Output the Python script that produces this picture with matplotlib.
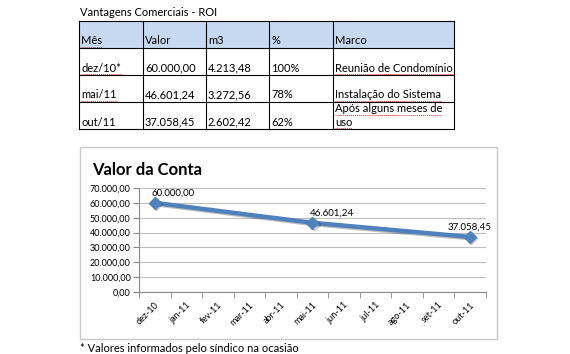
import matplotlib
matplotlib.use("Agg")
import matplotlib.pyplot as plt
from matplotlib.patches import Rectangle
import matplotlib.patheffects as pe

plt.rcParams['font.family'] = ['Lato', 'DejaVu Sans']

# table data
headers = ['Mês', 'Valor', 'm3', '%', 'Marco']
meses = ['dez/10*', 'mai/11', 'out/11']
valores_txt = ['60.000,00', '46.601,24', '37.058,45']
m3 = ['4.213,48', '3.272,56', '2.602,42']
pct = ['100%', '78%', '62%']
marco = ['Reunião de Condomínio', 'Instalação do Sistema', 'Após alguns meses de\nuso']

# chart data
months = ['dez-10', 'jan-11', 'fev-11', 'mar-11', 'abr-11', 'mai-11',
          'jun-11', 'jul-11', 'ago-11', 'set-11', 'out-11']
point_months = ['dez-10', 'mai-11', 'out-11']
point_values = [60000.00, 46601.24, 37058.45]


def br(v):
    s = f"{v:,.2f}"
    return s.replace(',', 'X').replace('.', ',').replace('X', '.')


fig = plt.figure(figsize=(5.7, 3.54), dpi=100)
bg = fig.add_axes([0, 0, 1, 1])
bg.set_xlim(0, 570)
bg.set_ylim(354, 0)
bg.axis('off')

fs = 8
squiggle = []  # texts that get the red spell-check underline

bg.text(80, 12, 'Vantagens Comerciais - ROI', fontsize=fs, va='center', ha='left')

cols = [79, 143, 206, 269, 333, 454]
rows = [21, 48, 75, 102, 129]
bg.add_patch(Rectangle((cols[0], rows[0]), cols[-1] - cols[0], rows[1] - rows[0],
                       facecolor='#c6d9f1', edgecolor='none'))
for x in cols:
    bg.plot([x, x], [rows[0], rows[-1]], color='black', lw=0.8)
for y in rows:
    bg.plot([cols[0], cols[-1]], [y, y], color='black', lw=0.8)

for i, h in enumerate(headers):
    t = bg.text(cols[i] + 2, 41, h, fontsize=fs, va='center', ha='left')
    if h == 'Mês':
        squiggle.append(t)
table_rows = list(zip(meses, valores_txt, m3, pct, marco))
row_y = [68, 95, 122]
for r, vals in enumerate(table_rows):
    for i, v in enumerate(vals):
        if '\n' in v:
            a, b = v.split('\n')
            squiggle.append(bg.text(cols[i] + 2, 109, a, fontsize=fs, va='center', ha='left'))
            squiggle.append(bg.text(cols[i] + 2, 122, b, fontsize=fs, va='center', ha='left'))
        else:
            t = bg.text(cols[i] + 2, row_y[r], v, fontsize=fs, va='center', ha='left')
            if i == 4 or (i == 0 and r < 2):
                squiggle.append(t)

# chart frame
bg.add_patch(Rectangle((80, 147), 417, 192, facecolor='white', edgecolor='#c8c8c8', lw=1))
bg.text(92, 170, 'Valor da Conta', fontsize=12, fontweight='bold', va='center', ha='left')
bg.text(80, 348, '* Valores informados pelo síndico na ocasião', fontsize=fs,
        va='center', ha='left')

ax = fig.add_axes([139 / 570, (354 - 292) / 354, (485.5 - 139) / 570, (292 - 188) / 354])
xs = [months.index(m) for m in point_months]
ax.plot(xs, point_values, color='#4f81bd', lw=3.2, marker='D', markersize=6,
        path_effects=[pe.SimpleLineShadow(offset=(1, -1), alpha=0.25), pe.Normal()])
label_ha = ['left', 'left', 'center']
label_dx = [-2, -2, 0]
for x, v, ha, dx in zip(xs, point_values, label_ha, label_dx):
    ax.annotate(br(v), (x, v), xytext=(dx, 4), textcoords='offset points',
                ha=ha, va='bottom', fontsize=7)

ax.set_xlim(-0.5, len(months) - 0.5)
ax.set_ylim(0, 70000)
ax.set_yticks(range(0, 70001, 10000))
ax.set_yticklabels([br(v) for v in range(0, 70001, 10000)], fontsize=6.5)
ax.set_xticks(range(len(months)))
ax.set_xticklabels(months, rotation=45, ha='right', rotation_mode='anchor', fontsize=6.5)
ax.tick_params(axis='x', length=0, pad=6)
ax.set_xticks([i - 0.5 for i in range(len(months) + 1)], minor=True)
ax.tick_params(axis='x', which='minor', length=4, color='#888888')
ax.tick_params(axis='y', length=4, color='#888888', pad=2)
ax.grid(axis='y', color='#bfbfbf', lw=0.8)
ax.set_axisbelow(True)
for s in ['top', 'right']:
    ax.spines[s].set_visible(False)
ax.spines['left'].set_color('#888888')
ax.spines['bottom'].set_color('#888888')

# red dotted underline like the spell checker
fig.canvas.draw()
rend = fig.canvas.get_renderer()
inv = bg.transData.inverted()
for t in squiggle:
    bb = t.get_window_extent(rend)
    (x0, y0), (x1, y1) = inv.transform([(bb.x0, bb.y0), (bb.x1, bb.y1)])
    bg.plot([x0, x1], [y0 + 0.5, y0 + 0.5], color='#e03030', lw=0.7, ls=(0, (1, 1)))

fig.savefig('out.png', dpi=100)
